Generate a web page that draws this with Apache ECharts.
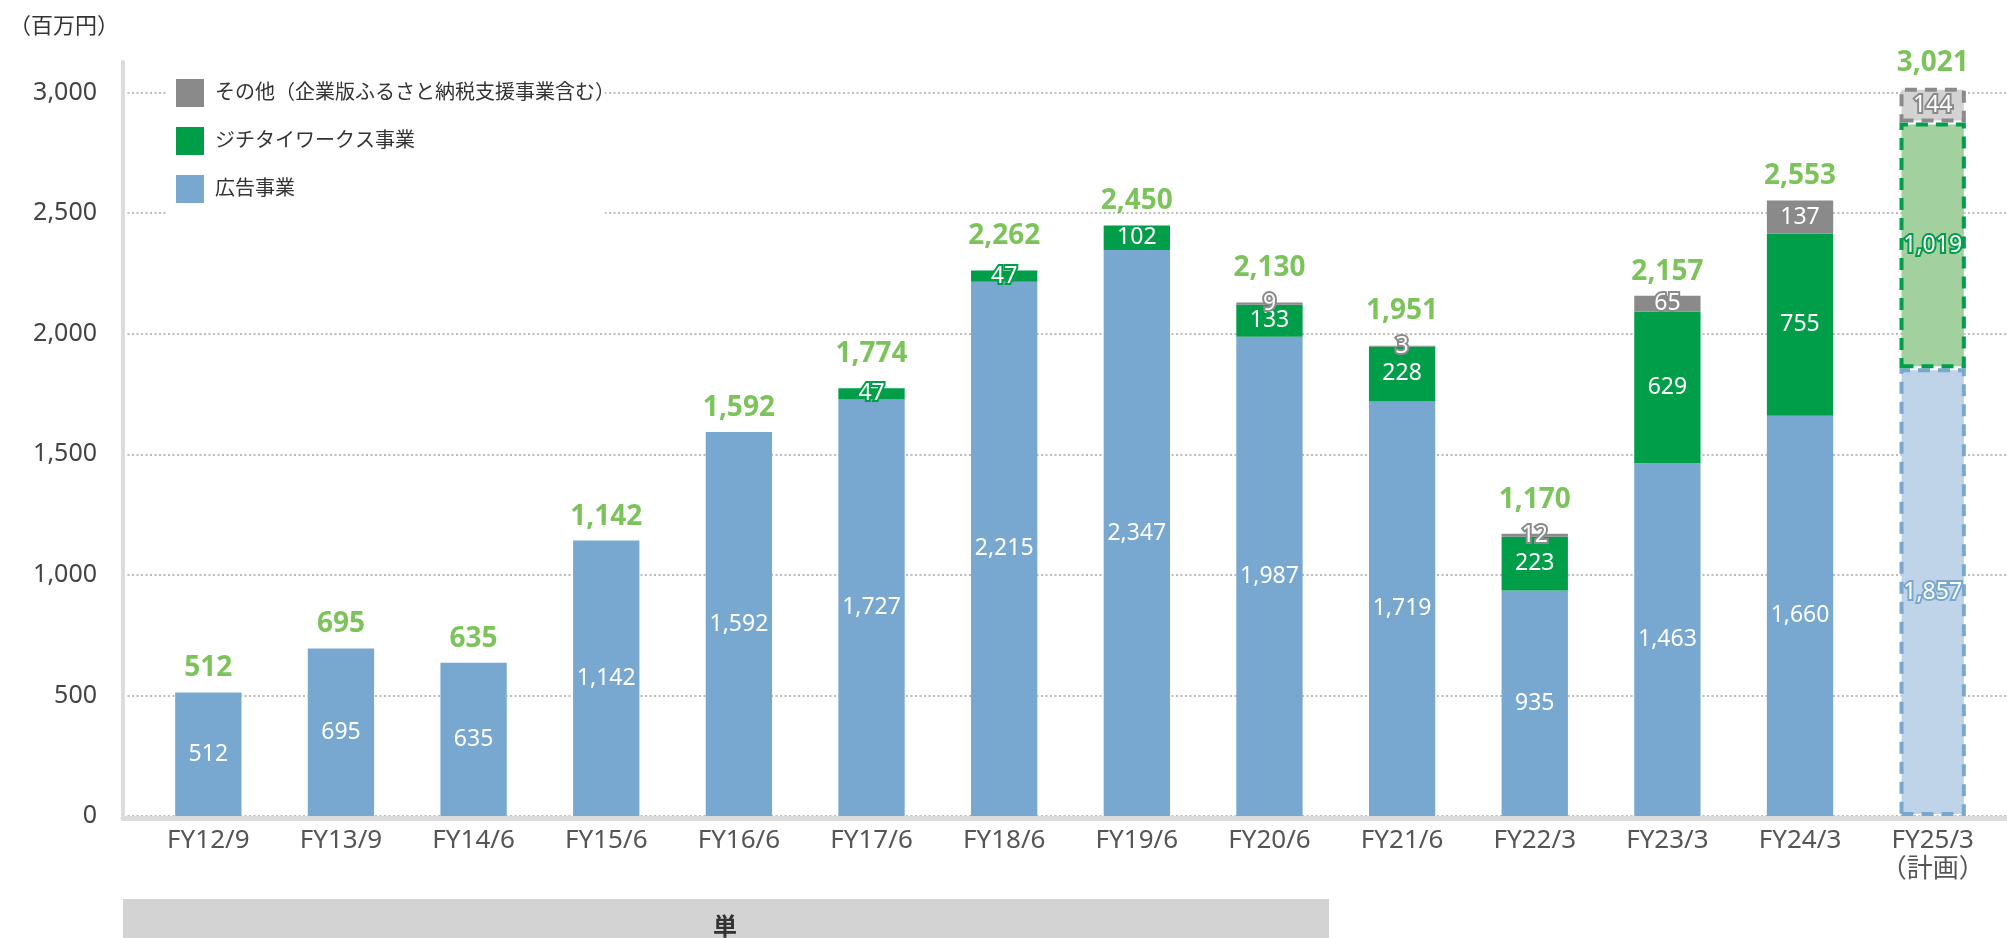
<!DOCTYPE html>
<html>
<head>
<meta charset="utf-8">
<script src="https://cdn.jsdelivr.net/npm/echarts@6/dist/echarts.min.js"></script>
<style>
  html, body { margin: 0; padding: 0; background: #fff; }
  #main { width: 2007px; height: 938px; }
</style>
</head>
<body>
<div id="main"></div>
<script>
  // 年度
  var categories = ['FY12/9', 'FY13/9', 'FY14/6', 'FY15/6', 'FY16/6', 'FY17/6', 'FY18/6',
    'FY19/6', 'FY20/6', 'FY21/6', 'FY22/3', 'FY23/3', 'FY24/3', 'FY25/3\n（計画）']
  // 広告事業
  var adValues = [512, 695, 635, 1142, 1592, 1727, 2215, 2347, 1987, 1719, 935, 1463, 1660, 1857]
  // ジチタイワークス事業
  var jichitaiValues = [null, null, null, null, null, 47, 47, 102, 133, 228, 223, 629, 755, 1019]
  // その他
  var otherValues = [null, null, null, null, null, null, null, null, 9, 3, 12, 65, 137, 144]
  // 合計（表示値）
  var totals = [512, 695, 635, 1142, 1592, 1774, 2262, 2450, 2130, 1951, 1170, 2157, 2553, 3021]
  var yTicks = [0, 500, 1000, 1500, 2000, 2500, 3000]
  var planIndex = 13 // 計画の年度

  var FONT = '"Noto Sans", "Noto Sans CJK JP", sans-serif'

  var colors = {
    ad: '#78a8d0', adLight: '#bfd4e9',
    jichitai: '#009e48', jichitaiLight: '#a3d09f',
    other: '#8a8a8a', otherLight: '#d3d3d3',
    total: '#5ab431'
  }

  function fmt(v) {
    return Number(v).toLocaleString('en-US')
  }

  // 積み上げ棒のデータ（計画年度は破線・淡色）
  function makeData(values, base, light, border) {
    return values.map(function (v, i) {
      var item = { value: v }
      var small = v != null && v < 100
      if (i === planIndex) {
        item.itemStyle = { color: light, borderColor: border, borderWidth: 4, borderType: [12, 8] }
        small = true
      }
      if (small) {
        item.label = { textBorderColor: border, textBorderWidth: 4 }
      }
      return item
    })
  }

  function barSeries(name, values, base, light, border) {
    return {
      name: name,
      type: 'bar',
      stack: 'Total',
      xAxisIndex: 0,
      yAxisIndex: 0,
      barWidth: '50%',
      clip: false,
      itemStyle: { color: base },
      label: {
        show: true,
        position: 'inside',
        color: '#fff',
        fontFamily: FONT,
        fontSize: 23,
        formatter: function (p) { return p.value == null ? '' : fmt(p.value) }
      },
      data: makeData(values, base, light, border)
    }
  }

  var totalData = totals.map(function (t, i) {
    var top = otherValues[i] != null ? otherValues[i] : jichitaiValues[i]
    var extra = (top != null && top < 50) ? 20 : 10
    return { value: t, label: { distance: extra } }
  })

  var chart = echarts.init(document.getElementById('main'))
  chart.setOption({
    animation: false,
    backgroundColor: '#fff',
    textStyle: { fontFamily: FONT },
    title: {
      text: '（百万円）',
      left: 4,
      top: 11,
      textStyle: { fontSize: 22, fontWeight: 'normal', color: '#333', fontFamily: FONT }
    },
    legend: {
      data: ['その他（企業版ふるさと納税支援事業含む）', 'ジチタイワークス事業', '広告事業'],
      orient: 'vertical',
      left: 166,
      top: 67,
      padding: [12, 6, 14, 10],
      itemWidth: 28,
      itemHeight: 28,
      itemGap: 20,
      icon: 'rect',
      textStyle: { fontSize: 20, color: '#333', fontFamily: FONT, padding: [0, 0, 0, 6] }
    },
    grid: [
      { left: 142, right: 8, top: 92.5, bottom: 122 },
      { left: 123, right: 0, top: 92.5, bottom: 122 },
      { left: 123, right: 0, top: 62, bottom: 120 }
    ],
    xAxis: [
      {
        type: 'category',
        gridIndex: 0,
        data: categories,
        axisLine: { show: false },
        axisTick: { show: false },
        axisLabel: { interval: 0, color: '#555', fontSize: 26, lineHeight: 29, margin: 10, fontFamily: FONT }
      },
      {
        type: 'value',
        gridIndex: 1,
        offset: 2.5,
        axisLine: { show: true, onZero: false, lineStyle: { color: '#dcdcdc', width: 5 } },
        axisTick: { show: false },
        axisLabel: { show: false },
        splitLine: { show: false }
      },
      {
        type: 'value',
        gridIndex: 2,
        show: false
      }
    ],
    yAxis: [
      { type: 'value', gridIndex: 0, min: 0, max: 3000, show: false },
      {
        type: 'value',
        gridIndex: 1,
        min: yTicks[0],
        max: yTicks[yTicks.length - 1],
        interval: yTicks[1] - yTicks[0],
        axisLine: { show: false },
        axisTick: { show: false },
        axisLabel: {
          color: '#444', fontSize: 25, margin: 26, fontFamily: FONT,
          formatter: function (v) { return fmt(v) }
        },
        splitLine: { show: true, lineStyle: { color: '#a6a6a6', width: 1.5, type: [2, 2.5] } }
      },
      {
        type: 'value',
        gridIndex: 2,
        axisLine: { show: true, lineStyle: { color: '#dcdcdc', width: 4 } },
        axisTick: { show: false },
        axisLabel: { show: false },
        splitLine: { show: false }
      }
    ],
    graphic: [
      // 凡例の背景（点線を隠す）
      {
        type: 'rect',
        left: 166,
        top: 67,
        z: 3,
        shape: { width: 439, height: 150 },
        style: { fill: '#fff' }
      },
      {
        type: 'rect',
        left: 123,
        top: 899,
        shape: { width: 1206, height: 60 },
        style: { fill: '#d3d3d3' }
      },
      {
        type: 'text',
        left: 713,
        top: 914,
        style: { text: '単', font: 'bold 24px "Noto Sans CJK JP"', fill: '#333' }
      }
    ],
    series: [
      barSeries('広告事業', adValues, colors.ad, colors.adLight, colors.ad),
      barSeries('ジチタイワークス事業', jichitaiValues, colors.jichitai, colors.jichitaiLight, colors.jichitai),
      barSeries('その他（企業版ふるさと納税支援事業含む）', otherValues, colors.other, colors.otherLight, colors.other),
      {
        name: '合計',
        type: 'scatter',
        xAxisIndex: 0,
        yAxisIndex: 0,
        symbolSize: 0,
        clip: false,
        itemStyle: { color: 'transparent' },
        silent: true,
        label: {
          show: true,
          position: 'top',
          color: colors.total,
          fontSize: 28,
          fontWeight: 'bold',
          fontFamily: FONT,
          formatter: function (p) { return fmt(p.value) }
        },
        data: totalData
      }
    ]
  })

  window.addEventListener('resize', function () { chart.resize() })
</script>
</body>
</html>
